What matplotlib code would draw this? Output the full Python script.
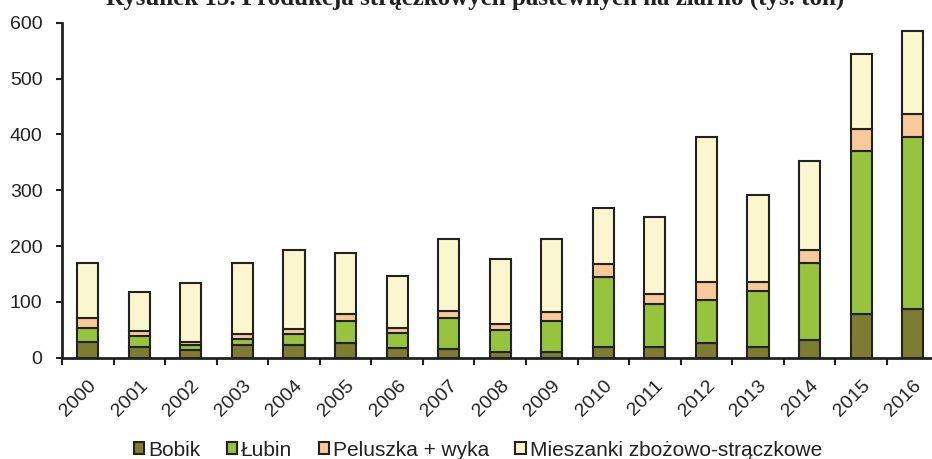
import numpy as np
import matplotlib.pyplot as plt
from matplotlib.patches import Patch

# Production of fodder legumes for grain (thousand tonnes)
years = [str(y) for y in range(2000, 2017)]
bobik = [29, 20, 14, 23, 23, 26, 18, 16, 11, 11, 19, 19, 26, 19, 32, 78, 87]
lubin = [25, 18, 9, 10, 19, 40, 27, 56, 39, 55, 126, 77, 77, 100, 138, 292, 308]
peluszka = [18, 10, 5, 9, 9, 12, 8, 12, 10, 15, 23, 18, 33, 16, 23, 39, 42]
mieszanki = [98, 70, 105, 128, 142, 109, 93, 128, 116, 132, 101, 138, 260, 157, 159, 135, 149]

series = [
    ('Bobik', bobik, '#7d7d32'),
    ('Łubin', lubin, '#96c43c'),
    ('Peluszka + wyka', peluszka, '#f9c99a'),
    ('Mieszanki zbożowo-strączkowe', mieszanki, '#faf7ce'),
]

plt.rcParams['font.family'] = ['Liberation Sans', 'DejaVu Sans']

fig = plt.figure(figsize=(9.32, 4.59), dpi=100)
ax = fig.add_axes([62 / 932, 101.3 / 459, 876.5 / 932, 335 / 459])

x = np.arange(len(years))
bottom = np.zeros(len(years))
for name, vals, col in series:
    ax.bar(x, vals, width=0.41, bottom=bottom, color=col,
           edgecolor='#222222', linewidth=1.5, label=name)
    bottom += np.array(vals)

ax.set_xlim(-0.5, len(years) - 0.5)
ax.set_ylim(0, 600)
ax.set_yticks(range(0, 601, 100))
ax.tick_params(axis='y', labelsize=14, length=4, width=1.5, pad=10, colors='#222222')

# ticks sit between the categories, labels under the bars
ax.set_xticks(np.arange(-0.5, len(years)), minor=False)
ax.set_xticklabels([])
ax.set_xticks(x, minor=True)
ax.set_xticklabels(years, minor=True, rotation=45, ha='right', va='top',
                   rotation_mode='anchor', fontsize=14, color='#222222')
ax.tick_params(axis='x', which='major', length=5, width=1.5, color='#222222')
ax.tick_params(axis='x', which='minor', length=0, pad=14)

for side in ['top', 'right']:
    ax.spines[side].set_visible(False)
for side in ['left', 'bottom']:
    ax.spines[side].set_linewidth(2)
    ax.spines[side].set_color('#222222')

# title is cropped at the top edge, as in the source image
fig.text(475 / 932, 1 - 4.5 / 459,
         'Rysunek 15. Produkcja strączkowych pastewnych na ziarno (tys. ton)',
         ha='center', va='baseline', fontsize=18, fontweight='bold',
         family=['Liberation Serif', 'DejaVu Serif'], color='#222222')

handles = [Patch(facecolor=c, edgecolor='#222222', linewidth=1.5) for _, _, c in series]
fig.legend(handles, [s[0] for s in series], loc='center',
           bbox_to_anchor=(478 / 932, 1 - 450 / 459), ncol=4, frameon=False,
           fontsize=15, handlelength=0.5, handleheight=0.5,
           handletextpad=0.2, columnspacing=1.25, borderaxespad=0,
           labelcolor='#222222')

fig.savefig('out.png', dpi=100)
